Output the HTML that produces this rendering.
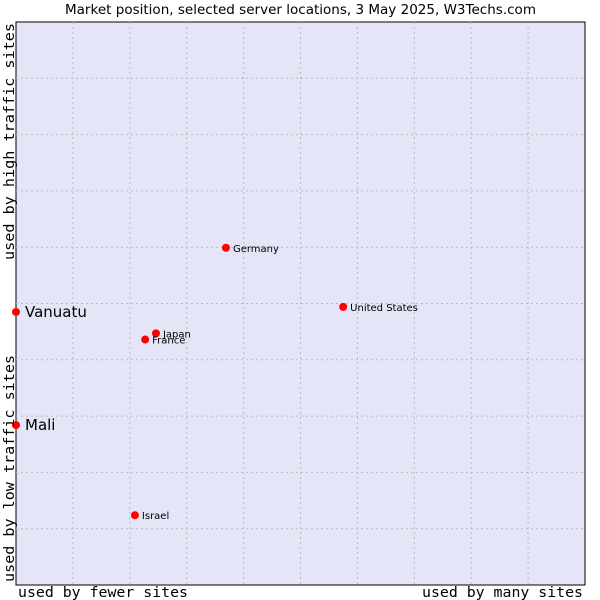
<!DOCTYPE html>
<html><head><meta charset="utf-8"><style>
html,body{margin:0;padding:0;background:#fff;}
svg{display:block;}
</style></head><body>
<svg id="chart" width="600" height="600" xmlns="http://www.w3.org/2000/svg">
<text x="65" y="14" textLength="471" lengthAdjust="spacingAndGlyphs" font-family="DejaVu Sans, sans-serif" font-size="13" fill="#000">Market position, selected server locations, 3 May 2025, W3Techs.com</text>
<rect x="16" y="22" width="569" height="563" fill="#e5e5f8" stroke="#000" stroke-width="1"/>
<g id="grid"></g>
<g id="points"></g>
<text x="18" y="597" textLength="170" lengthAdjust="spacingAndGlyphs" font-family="DejaVu Sans Mono, Liberation Mono, monospace" font-size="14.5">used by fewer sites</text>
<text x="422" y="597" textLength="161" lengthAdjust="spacingAndGlyphs" font-family="DejaVu Sans Mono, Liberation Mono, monospace" font-size="14.5">used by many sites</text>
<text transform="translate(14,582) rotate(-90)" textLength="227" lengthAdjust="spacingAndGlyphs" font-family="DejaVu Sans Mono, Liberation Mono, monospace" font-size="14.5">used by low traffic sites</text>
<text transform="translate(14,260) rotate(-90)" textLength="237" lengthAdjust="spacingAndGlyphs" font-family="DejaVu Sans Mono, Liberation Mono, monospace" font-size="14.5">used by high traffic sites</text>
</svg>
<script>
const names = ["Vanuatu","Mali","Germany","United States","Japan","France","Israel"];
const xValues = [0,0,36.9,57.5,24.6,22.7,20.9];
const yValues = [48.5,28.4,59.9,49.4,44.7,43.6,12.4];
const bigLabels = [true,true,false,false,false,false,false];
const NS="http://www.w3.org/2000/svg";
const L=16,R=585,T=22,B=585;
function sx(v){return L+v/100*(R-L);}
function sy(v){return B-v/100*(B-T);}
const grid=document.getElementById('grid');
for(let i=1;i<10;i++){
  const v=document.createElementNS(NS,'line');
  v.setAttribute('x1',sx(i*10));v.setAttribute('x2',sx(i*10));v.setAttribute('y1',T);v.setAttribute('y2',B);
  v.setAttribute('stroke','#bbb');v.setAttribute('stroke-dasharray','2,3');
  
  
  grid.appendChild(v);
  const h=document.createElementNS(NS,'line');
  h.setAttribute('y1',sy(i*10));h.setAttribute('y2',sy(i*10));h.setAttribute('x1',L);h.setAttribute('x2',R);
  h.setAttribute('stroke','#bbb');h.setAttribute('stroke-dasharray','2,3');
  
  
  grid.appendChild(h);
}
const pts=document.getElementById('points');
names.forEach((n,i)=>{
  const cx=sx(xValues[i]),cy=sy(yValues[i]);
  const c=document.createElementNS(NS,'circle');
  c.setAttribute('cx',cx);c.setAttribute('cy',cy);c.setAttribute('r',4);c.setAttribute('fill','#f00');
  
  
  pts.appendChild(c);
  const t=document.createElementNS(NS,'text');
  const big=bigLabels[i];
  t.setAttribute('x',cx+(big?9:7));t.setAttribute('y',cy+(big?5:4));
  t.setAttribute('font-family','DejaVu Sans, sans-serif');
  t.setAttribute('font-size',big?15:10);
  t.textContent=n;
  
  
  pts.appendChild(t);
});
</script>
</body></html>
